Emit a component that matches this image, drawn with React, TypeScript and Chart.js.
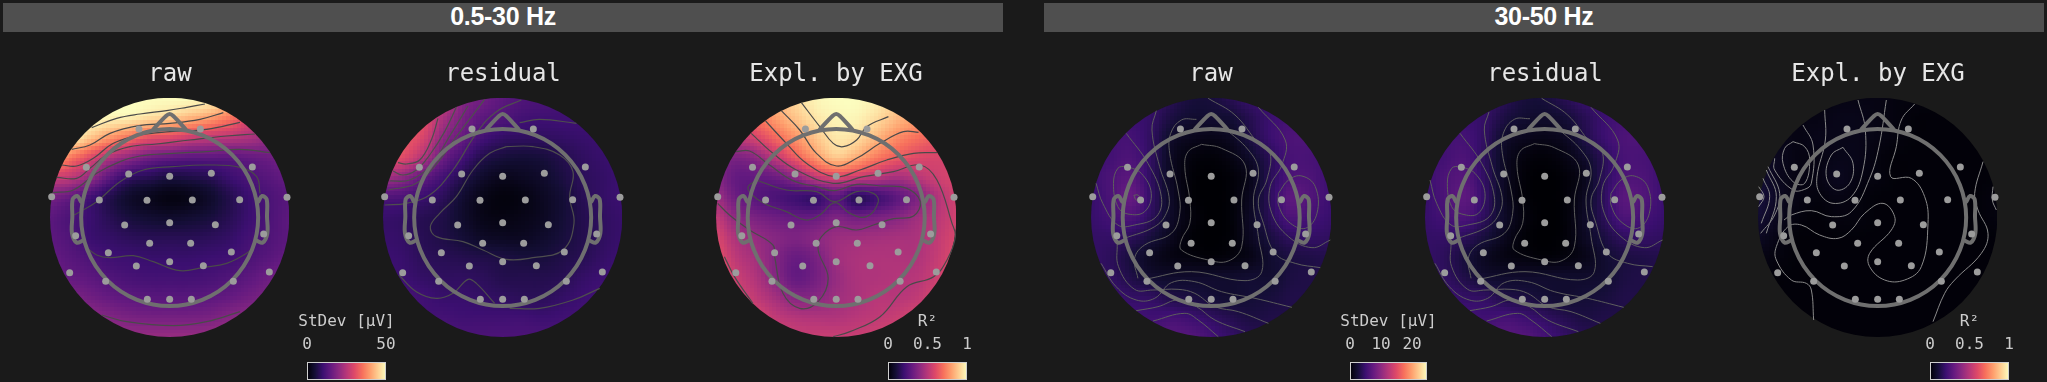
import React, { useEffect, useRef } from "react";
import { Chart, registerables } from "chart.js";

Chart.register(...registerables);

// ---------- labels ----------
const bandLabels = ["0.5-30 Hz", "30-50 Hz"];
const mapTitles = ["raw", "residual", "Expl. by EXG"];
const stdevTitle = "StDev [µV]";
const r2Title = "R²";
const stdevTicksLow = [0, 50];
const stdevTicksHigh = [0, 10, 20];
const r2Ticks = [0, 0.5, 1];

// ---------- colormap ----------
const magmaStops = ["#000004", "#140e36", "#3b0f70", "#641a80", "#8c2981", "#b73779", "#de4968", "#f7705c", "#fe9f6d", "#fecf92", "#fcfdbf"];

// ---------- sensor montage (head units) ----------
const electrodes = [
  [297, 117], [481, 117],
  [139, 232], [266, 252], [389, 259], [514, 250], [637, 231],
  [35, 320], [178, 330], [321, 331], [457, 330], [599, 329], [741, 322],
  [254, 405], [389, 398], [526, 404],
  [107, 437], [671, 432],
  [329, 460], [452, 460],
  [205, 488], [574, 486],
  [289, 528], [389, 515], [490, 527],
  [89, 548], [688, 546],
  [197, 574], [580, 574],
  [322, 628], [389, 628], [454, 628],
];
const headCentre = [[389, 382.5]];
const nose = [[340, 118], [378, 78], [389, 72], [400, 78], [437, 118]];
const earLeft = [[123, 335], [112, 318], [98, 328], [97, 380], [96, 430], [110, 458], [128, 452]];
const earRight = [[655, 335], [666, 318], [680, 328], [681, 380], [682, 430], [668, 458], [650, 452]];

// ---------- field samples, 13x13, percent of colour range ----------
const raw30 = [
  [100, 100, 100, 100, 100, 100, 100, 100, 98, 90, 80, 70, 60],
  [100, 100, 100, 98, 97, 93, 90, 85, 80, 72, 60, 52, 48],
  [98, 98, 88, 78, 70, 62, 60, 55, 52, 50, 47, 42, 40],
  [85, 72, 60, 48, 40, 33, 30, 28, 28, 28, 30, 32, 35],
  [55, 52, 42, 28, 18, 15, 12, 13, 15, 20, 24, 27, 30],
  [35, 30, 22, 14, 8, 5, 3, 4, 8, 14, 20, 24, 27],
  [28, 24, 20, 15, 11, 9, 8, 9, 11, 15, 20, 24, 28],
  [28, 25, 20, 18, 16, 15, 15, 15, 16, 18, 22, 25, 28],
  [30, 27, 24, 21, 20, 19, 19, 19, 20, 21, 24, 27, 30],
  [33, 30, 28, 25, 23, 22, 22, 22, 23, 25, 28, 32, 35],
  [38, 36, 33, 30, 28, 27, 27, 27, 28, 30, 33, 36, 39],
  [42, 42, 40, 37, 35, 34, 34, 34, 35, 38, 40, 42, 43],
  [44, 44, 43, 43, 42, 42, 42, 42, 42, 43, 43, 44, 44],
];
const residual30 = [
  [60, 60, 60, 55, 38, 33, 28, 25, 24, 22, 21, 21, 21],
  [65, 65, 62, 47, 35, 28, 25, 22, 21, 21, 21, 21, 21],
  [65, 64, 58, 40, 30, 22, 18, 17, 17, 18, 19, 20, 20],
  [60, 60, 48, 32, 22, 14, 11, 10, 11, 14, 17, 19, 20],
  [45, 40, 30, 22, 14, 8, 5, 6, 8, 12, 16, 18, 20],
  [25, 24, 20, 16, 9, 4, 2, 3, 6, 10, 15, 18, 20],
  [19, 18, 15, 13, 8, 4, 3, 4, 6, 10, 14, 17, 19],
  [19, 18, 15, 13, 10, 7, 6, 6, 8, 11, 14, 17, 19],
  [20, 19, 16, 15, 14, 13, 12, 11, 11, 13, 15, 18, 20],
  [21, 20, 18, 17, 17, 16, 14, 14, 14, 15, 18, 20, 21],
  [24, 23, 21, 19, 19, 18, 17, 16, 16, 18, 20, 22, 23],
  [24, 24, 22, 22, 21, 21, 21, 21, 20, 21, 22, 23, 24],
  [25, 25, 25, 24, 24, 24, 24, 24, 24, 24, 24, 25, 25],
];
const explained30 = [
  [70, 72, 80, 85, 92, 98, 100, 100, 97, 90, 85, 80, 75],
  [62, 62, 70, 80, 88, 95, 98, 98, 93, 86, 80, 72, 70],
  [55, 52, 58, 68, 78, 88, 95, 93, 85, 76, 70, 65, 62],
  [40, 36, 40, 52, 65, 78, 88, 82, 72, 65, 60, 58, 58],
  [38, 30, 30, 32, 40, 52, 58, 54, 50, 46, 50, 55, 58],
  [44, 32, 27, 24, 21, 19, 28, 16, 21, 28, 36, 48, 56],
  [52, 40, 35, 32, 30, 31, 36, 33, 35, 38, 44, 50, 56],
  [58, 47, 42, 38, 36, 39, 43, 44, 45, 46, 47, 52, 58],
  [62, 51, 45, 37, 31, 35, 44, 47, 48, 48, 48, 53, 60],
  [65, 55, 48, 38, 30, 34, 42, 47, 48, 49, 50, 55, 62],
  [66, 58, 52, 45, 38, 39, 44, 47, 50, 50, 52, 58, 62],
  [66, 60, 58, 52, 49, 48, 48, 50, 52, 54, 58, 60, 62],
  [62, 60, 58, 56, 54, 54, 54, 54, 56, 58, 60, 62, 62],
];
const raw50 = [
  [20, 20, 20, 19, 15, 11, 11, 15, 19, 20, 20, 20, 20],
  [22, 22, 20, 18, 12, 9, 9, 10, 15, 20, 22, 22, 22],
  [22, 22, 22, 17, 8, 5, 4, 6, 13, 20, 24, 24, 22],
  [20, 22, 24, 17, 6, 2, 1, 3, 8, 16, 23, 23, 21],
  [20, 24, 27, 17, 6, 1, 0, 1, 5, 16, 24, 24, 20],
  [19, 24, 30, 18, 7, 1, 0, 1, 6, 17, 28, 25, 20],
  [19, 22, 24, 16, 7, 2, 0, 1, 7, 16, 24, 22, 19],
  [18, 18, 16, 11, 5, 1, 0, 1, 6, 12, 17, 18, 17],
  [18, 16, 11, 6, 3, 2, 1, 2, 4, 9, 12, 13, 14],
  [18, 17, 13, 9, 8, 8, 8, 8, 9, 9, 12, 13, 14],
  [21, 20, 18, 17, 13, 12, 10, 9, 10, 11, 13, 13, 14],
  [23, 22, 22, 21, 22, 20, 17, 14, 12, 13, 13, 14, 14],
  [24, 24, 24, 24, 27, 26, 22, 18, 15, 14, 14, 14, 14],
];
const residual50 = [
  [20, 20, 20, 19, 15, 11, 11, 15, 19, 20, 20, 20, 20],
  [22, 22, 20, 18, 12, 9, 8, 10, 15, 20, 22, 22, 22],
  [22, 22, 22, 17, 8, 5, 4, 6, 13, 20, 24, 24, 22],
  [20, 22, 24, 16, 6, 2, 1, 3, 8, 16, 23, 23, 21],
  [20, 24, 26, 17, 6, 1, 0, 1, 5, 16, 24, 24, 20],
  [19, 24, 28, 18, 6, 1, 0, 1, 6, 17, 27, 25, 20],
  [19, 22, 24, 16, 7, 2, 0, 1, 7, 16, 24, 22, 19],
  [18, 18, 16, 11, 5, 1, 0, 1, 6, 12, 17, 18, 17],
  [18, 16, 11, 6, 3, 2, 1, 2, 4, 9, 12, 13, 14],
  [18, 17, 13, 9, 8, 8, 8, 8, 8, 9, 12, 13, 14],
  [21, 20, 18, 17, 13, 12, 10, 9, 10, 11, 13, 13, 14],
  [23, 22, 22, 21, 22, 20, 17, 14, 12, 13, 13, 14, 14],
  [24, 24, 24, 24, 27, 26, 22, 18, 15, 14, 14, 14, 14],
];
const explained50 = [
  [2, 2, 2, 2, 3, 3, 3, 2, 2, 1, 1, 1, 1],
  [3, 3, 3, 3, 4, 4, 3, 2, 1, 1, 1, 1, 1],
  [5, 4, 3, 4, 4, 4, 3, 2, 1, 1, 1, 1, 1],
  [7, 5, 3, 3, 4, 4, 2, 1, 1, 1, 1, 1, 1],
  [9, 5, 3, 3, 5, 3, 2, 1, 1, 1, 1, 1, 1],
  [11, 6, 3, 2, 3, 2, 1, 1, 1, 1, 1, 1, 2],
  [9, 5, 2, 1, 2, 2, 1, 1, 1, 1, 1, 1, 2],
  [6, 3, 1, 1, 1, 1, 1, 1, 1, 1, 1, 1, 1],
  [3, 2, 1, 1, 1, 1, 1, 1, 1, 1, 1, 1, 1],
  [2, 1, 1, 1, 1, 1, 1, 1, 1, 1, 1, 1, 1],
  [1, 1, 1, 1, 1, 1, 1, 1, 1, 1, 1, 1, 1],
  [1, 1, 1, 1, 1, 1, 1, 1, 1, 1, 1, 1, 1],
  [1, 1, 1, 1, 1, 1, 1, 1, 1, 1, 1, 1, 1],
];

// ---------- iso-lines (head units) ----------
const contoursRaw30 = [
  [[155, 113], [230, 85], [300, 72], [380, 62], [440, 52], [495, 42]],
  [[95, 178], [150, 165], [210, 130], [297, 107], [390, 100], [480, 88], [550, 68]],
  [[65, 225], [110, 228], [160, 205], [220, 160], [300, 135], [390, 125], [500, 118], [600, 97]],
  [[50, 262], [110, 265], [150, 235], [200, 195], [270, 170], [350, 162], [450, 150], [560, 138], [645, 132]],
  [[38, 308], [100, 300], [170, 250], [240, 215], [300, 198], [400, 190], [500, 185], [600, 178], [690, 188]],
  [[103, 375], [170, 335], [240, 275], [310, 240], [400, 230], [500, 225], [600, 232], [650, 260], [660, 310]],
  [[135, 468], [170, 495], [210, 503], [280, 497], [340, 515], [420, 542], [490, 532], [560, 520], [620, 490], [640, 470]],
  [[185, 675], [260, 695], [400, 707], [500, 695], [600, 665]],
];
const contoursResidual30 = [
  [[195, 85], [175, 150], [140, 210], [100, 222], [75, 218]],
  [[250, 52], [215, 125], [170, 195], [130, 240], [90, 255], [60, 243]],
  [[285, 48], [235, 130], [170, 230], [110, 270], [50, 273]],
  [[335, 28], [250, 140], [200, 210], [130, 280], [45, 300]],
  [[445, 30], [370, 65], [310, 130], [240, 240], [170, 315], [100, 340], [35, 345]],
  [[400, 170], [480, 170], [560, 195], [600, 245], [590, 320], [603, 400], [570, 480], [480, 503], [400, 508], [330, 480], [270, 455], [190, 440], [172, 410], [200, 370], [250, 320], [300, 240], [350, 190], [400, 170]],
  [[78, 555], [130, 605], [190, 625], [240, 610], [285, 568], [310, 580], [365, 640]],
  [[410, 655], [500, 655], [600, 630], [680, 595]],
  [[440, 98], [500, 88], [610, 100]],
];
const contoursExplained30 = [
  [[285, 38], [340, 110], [380, 160], [410, 170], [450, 150], [480, 110], [545, 80]],
  [[225, 62], [280, 120], [330, 190], [390, 228], [450, 205], [520, 160], [590, 125], [635, 127]],
  [[178, 93], [240, 160], [300, 220], [385, 260], [460, 240], [540, 210], [620, 190], [690, 188]],
  [[135, 130], [200, 190], [270, 240], [380, 280], [470, 260], [560, 245], [640, 225], [690, 270], [735, 400], [745, 440], [720, 510], [680, 560], [600, 590], [520, 680], [430, 725], [380, 740]],
  [[90, 185], [130, 183], [190, 225], [260, 272], [330, 290], [385, 302], [450, 283], [520, 288], [600, 295], [640, 335], [620, 378], [560, 386], [500, 405], [450, 420], [390, 410], [345, 440], [335, 480], [365, 565], [335, 635], [280, 655], [230, 610], [205, 500], [200, 465], [130, 420], [70, 375], [35, 340]],
  [[150, 270], [240, 300], [330, 305], [385, 335], [450, 305], [500, 310], [515, 335], [480, 380], [430, 370], [385, 338], [340, 375], [300, 390], [240, 365], [165, 335], [125, 295], [150, 270]],
  [[55, 500], [85, 560], [140, 640]],
];
const contoursRaw50 = [
  [[360, 163], [420, 175], [490, 225], [480, 330], [480, 470], [440, 513], [380, 510], [300, 480], [300, 450], [325, 400], [325, 330], [310, 230], [320, 185], [360, 163]],
  [[225, 62], [212, 120], [235, 230], [263, 320], [255, 370], [220, 410], [130, 445]],
  [[345, 88], [300, 90], [268, 130], [265, 190], [290, 300], [295, 370], [270, 430], [190, 465], [160, 505], [170, 565]],
  [[135, 228], [180, 250], [210, 310], [190, 365], [140, 372], [110, 350], [97, 280], [110, 235], [135, 228]],
  [[135, 130], [200, 220], [240, 320], [225, 380], [160, 405], [110, 405], [65, 340], [45, 280]],
  [[190, 568], [330, 545], [490, 572], [540, 545], [530, 440], [515, 330], [530, 240], [500, 180], [430, 115]],
  [[590, 310], [620, 270], [660, 258], [700, 290], [705, 370], [670, 415], [620, 395], [590, 345], [590, 310]],
  [[530, 52], [610, 150], [600, 225], [565, 290], [570, 370], [620, 440], [690, 473], [745, 450]],
  [[380, 25], [460, 75], [530, 160], [565, 190], [555, 270], [530, 330], [545, 400], [580, 490], [640, 520], [715, 533]],
  [[60, 520], [105, 590], [165, 630], [220, 625], [270, 578], [340, 575], [420, 605], [520, 625], [630, 652]],
  [[108, 460], [112, 530], [160, 598], [215, 600], [290, 598], [340, 610], [400, 650], [470, 665], [560, 700]],
  [[165, 662], [230, 650], [290, 630], [345, 650], [400, 690], [490, 725]],
  [[215, 693], [310, 670], [350, 690], [410, 740]],
  [[158, 316], [170, 315], [176, 325], [165, 330], [158, 316]],
];
const contoursResidual50 = [
  [[358, 161], [418, 173], [490, 225], [478, 330], [478, 470], [438, 513], [380, 510], [298, 480], [298, 450], [323, 400], [323, 330], [306, 230], [316, 183], [358, 161]],
  [[222, 66], [208, 120], [232, 230], [261, 320], [253, 370], [218, 410], [130, 445]],
  [[345, 86], [298, 88], [265, 130], [262, 190], [288, 300], [293, 370], [268, 430], [188, 465], [160, 505], [168, 565]],
  [[135, 228], [180, 250], [210, 310], [190, 370], [140, 372], [110, 350], [97, 280], [110, 235], [135, 228]],
  [[135, 130], [200, 220], [238, 320], [223, 380], [158, 405], [108, 405], [65, 340], [45, 270]],
  [[190, 568], [330, 545], [488, 570], [538, 545], [528, 440], [513, 330], [528, 240], [498, 180], [428, 115]],
  [[588, 310], [618, 270], [658, 258], [698, 290], [703, 370], [668, 415], [618, 395], [588, 345], [588, 310]],
  [[528, 52], [608, 150], [598, 225], [563, 290], [568, 370], [618, 440], [688, 473], [743, 450]],
  [[380, 25], [458, 75], [528, 160], [563, 190], [553, 270], [528, 330], [543, 400], [578, 490], [638, 520], [713, 530]],
  [[60, 520], [103, 590], [163, 630], [218, 625], [268, 578], [338, 575], [418, 605], [518, 625], [626, 652]],
  [[108, 460], [110, 530], [158, 598], [213, 600], [288, 598], [338, 610], [398, 650], [468, 665], [556, 700]],
  [[165, 662], [228, 650], [288, 630], [343, 650], [398, 690], [490, 725]],
  [[215, 693], [308, 670], [348, 690], [410, 740]],
];
const contoursExplained50 = [
  [[285, 172], [315, 220], [305, 280], [265, 300], [235, 260], [250, 195], [285, 172]],
  [[135, 155], [170, 170], [185, 210], [170, 280], [135, 275], [105, 220], [110, 175], [135, 155]],
  [[330, 30], [352, 120], [345, 240], [310, 320], [255, 340], [215, 310], [207, 260], [232, 150], [230, 60]],
  [[415, 30], [393, 170], [365, 265], [310, 365], [250, 380], [190, 362], [130, 375], [108, 390]],
  [[165, 105], [195, 165], [190, 280], [170, 298], [135, 300], [80, 240], [80, 205]],
  [[500, 42], [460, 90], [445, 170], [428, 260], [490, 265], [530, 320], [540, 400], [520, 530], [470, 570], [410, 570], [365, 530], [365, 490], [430, 420], [440, 380], [405, 340], [350, 370], [310, 420], [270, 445], [215, 435], [160, 405], [120, 410], [85, 470], [85, 510], [130, 570], [175, 580], [190, 600], [197, 690]],
  [[705, 215], [680, 310], [690, 360], [720, 430], [700, 490], [620, 570], [590, 610], [555, 695]],
  [[735, 290], [733, 330], [745, 360]],
  [[60, 230], [95, 310], [80, 375], [38, 430]],
  [[55, 240], [85, 320], [55, 430]],
  [[45, 265], [65, 320], [40, 400]],
  [[32, 290], [48, 320], [32, 350]],
];

// ---------- helpers ----------
const hexToRgb = (h: string) => [1, 3, 5].map((i) => parseInt(h.slice(i, i + 2), 16));
const magmaRgb = magmaStops.map(hexToRgb);
function magma(t: number) {
  const v = Math.min(1, Math.max(0, t)) * (magmaRgb.length - 1);
  const i = Math.min(magmaRgb.length - 2, Math.floor(v));
  const f = v - i;
  return magmaRgb[i].map((c, k) => c + (magmaRgb[i + 1][k] - c) * f);
}
const catmull = (a: number, b: number, c: number, d: number, t: number) =>
  b + 0.5 * t * (c - a + t * (2 * a - 5 * b + 4 * c - d + t * (3 * (b - c) + d - a)));
function sampleField(g: number[][], u: number, v: number) {
  const n = g.length - 1;
  const ix = Math.min(n - 1, Math.floor(u * n));
  const iy = Math.min(n - 1, Math.floor(v * n));
  const fx = u * n - ix;
  const fy = v * n - iy;
  const at = (r: number, c: number) => g[Math.max(0, Math.min(n, r))][Math.max(0, Math.min(n, c))];
  const rows = [-1, 0, 1, 2].map((d) => catmull(at(iy + d, ix - 1), at(iy + d, ix), at(iy + d, ix + 1), at(iy + d, ix + 2), fx));
  return catmull(rows[0], rows[1], rows[2], rows[3], fy);
}

const FIELD_X0 = 30, FIELD_X1 = 748, FIELD_Y0 = 23, FIELD_Y1 = 741, FIELD_RES = 64;

const fieldPlugin = {
  id: "field",
  beforeDatasetsDraw(chart: any, _a: any, opts: any) {
    const { x, y } = chart.scales;
    const left = x.getPixelForValue(FIELD_X0), right = x.getPixelForValue(FIELD_X1);
    const top = y.getPixelForValue(FIELD_Y0), bottom = y.getPixelForValue(FIELD_Y1);
    const off = document.createElement("canvas");
    off.width = off.height = FIELD_RES;
    const octx = off.getContext("2d")!;
    const img = octx.createImageData(FIELD_RES, FIELD_RES);
    for (let r = 0; r < FIELD_RES; r++) {
      for (let c = 0; c < FIELD_RES; c++) {
        const rgb = magma(sampleField(opts.grid, (c + 0.5) / FIELD_RES, (r + 0.5) / FIELD_RES) / 100);
        const p = (r * FIELD_RES + c) * 4;
        img.data[p] = rgb[0]; img.data[p + 1] = rgb[1]; img.data[p + 2] = rgb[2]; img.data[p + 3] = 255;
      }
    }
    octx.putImageData(img, 0, 0);
    const ctx = chart.ctx;
    ctx.save();
    ctx.beginPath();
    ctx.ellipse((left + right) / 2, (top + bottom) / 2, (right - left) / 2, (bottom - top) / 2, 0, 0, Math.PI * 2);
    ctx.clip();
    ctx.imageSmoothingEnabled = false;
    ctx.drawImage(off, left, top, right - left, bottom - top);
    ctx.restore();
  },
};

const colorbarPlugin = {
  id: "colorbar",
  beforeDatasetsDraw(chart: any) {
    const { left, right, top, bottom } = chart.chartArea;
    const ctx = chart.ctx;
    const g = ctx.createLinearGradient(left, 0, right, 0);
    magmaStops.forEach((c, i) => g.addColorStop(i / (magmaStops.length - 1), c));
    ctx.save();
    ctx.fillStyle = g;
    ctx.fillRect(left, top, right - left, bottom - top);
    ctx.strokeStyle = "#cfcfcf";
    ctx.lineWidth = 1;
    ctx.strokeRect(left + 0.5, top + 0.5, right - left - 1, bottom - top - 1);
    ctx.restore();
  },
};

const toPoints = (a: number[][]) => a.map(([x, y]) => ({ x, y }));
const MONO = "'DejaVu Sans Mono', monospace";

function makeMap(canvas: HTMLCanvasElement, title: string, grid: number[][], contours: number[][][], contourColor: string, contourWidth: number, xMax: number) {
  const outline = (pts: number[][]) => ({
    data: toPoints(pts), showLine: true, tension: 0.35, borderColor: "#6f6f6f", borderWidth: 4,
    borderCapStyle: "round", borderJoinStyle: "round", pointRadius: 0, order: 2, clip: false,
  });
  return new Chart(canvas, {
    type: "scatter",
    data: {
      datasets: [
        ...contours.map((c) => ({
          data: toPoints(c), showLine: true, tension: 0.4, borderColor: contourColor, borderWidth: contourWidth, pointRadius: 0, order: 3,
        })),
        {
          data: toPoints(headCentre), pointRadius: 88.5, pointBorderWidth: 4, pointBorderColor: "#6f6f6f",
          pointBackgroundColor: "rgba(0,0,0,0)", order: 2, clip: false,
        },
        outline(nose), outline(earLeft), outline(earRight),
        {
          data: toPoints(electrodes), pointRadius: 3.5, pointBorderWidth: 0, pointBackgroundColor: "#9c9c9c", order: 1, clip: false,
        },
      ] as any,
    },
    options: {
      animation: false, responsive: false, events: [], devicePixelRatio: 1,
      layout: { padding: 0, autoPadding: false },
      plugins: {
        legend: { display: false }, tooltip: { enabled: false },
        title: {
          display: true, text: title, color: "#e6e6e6",
          font: { family: MONO, size: 24, weight: "normal", lineHeight: 1 },
          padding: { top: 13, bottom: 3 },
        },
        field: { grid },
      } as any,
      scales: {
        x: { type: "linear", display: false, min: 0, max: xMax },
        y: { type: "linear", display: false, min: 0, max: 765, reverse: true },
      },
    },
    plugins: [fieldPlugin],
  } as any);
}

function makeColorbar(canvas: HTMLCanvasElement, title: string, ticks: number[], max: number) {
  const sideAxis = (position: string) => ({
    type: "linear", position, display: true, min: 0, max: 1,
    grid: { display: false, drawTicks: false }, border: { display: false }, ticks: { display: false },
    afterFit: (s: any) => { s.width = 30; },
  });
  return new Chart(canvas, {
    type: "scatter",
    data: { datasets: [{ data: [] }] },
    options: {
      animation: false, responsive: false, events: [], devicePixelRatio: 1,
      layout: { padding: { left: 0, right: 0, top: 0, bottom: 2 }, autoPadding: false },
      plugins: {
        legend: { display: false }, tooltip: { enabled: false },
        title: {
          display: true, text: title, color: "#cccccc",
          font: { family: MONO, size: 16, weight: "normal", lineHeight: 1 },
          padding: { top: 12, bottom: 0 },
        },
      },
      scales: {
        x: {
          type: "linear", position: "top", min: 0, max,
          grid: { display: false, drawTicks: false }, border: { display: false },
          ticks: {
            color: "#cccccc", font: { family: MONO, size: 16, lineHeight: 1.2 }, padding: 8,
            autoSkip: false, maxRotation: 0, minRotation: 0, callback: (v: any) => String(v),
          },
          afterBuildTicks: (s: any) => { s.ticks = ticks.map((value) => ({ value })); },
          afterFit: (s: any) => { s.height = 32; },
        },
        y: sideAxis("left"),
        yRight: sideAxis("right"),
      },
    },
    plugins: [colorbarPlugin],
  } as any);
}

const mapLayout = [
  { left: 40, title: mapTitles[0], grid: raw30, contours: contoursRaw30, color: "#4a4a4a", width: 1.2, xMax: 780 },
  { left: 373, title: mapTitles[1], grid: residual30, contours: contoursResidual30, color: "#4e4e4e", width: 1.2, xMax: 780 },
  { left: 706, title: mapTitles[2], grid: explained30, contours: contoursExplained30, color: "#4a4a4a", width: 1.2, xMax: 776.75 },
  { left: 1081, title: mapTitles[0], grid: raw50, contours: contoursRaw50, color: "#5e5e5e", width: 1, xMax: 776.75 },
  { left: 1415, title: mapTitles[1], grid: residual50, contours: contoursResidual50, color: "#5e5e5e", width: 1, xMax: 780 },
  { left: 1748, title: mapTitles[2], grid: explained50, contours: contoursExplained50, color: "#8a8a8a", width: 1, xMax: 780 },
];
const barLayout = [
  { left: 277, width: 139, title: stdevTitle, ticks: stdevTicksLow, max: 50 },
  { left: 858, width: 139, title: r2Title, ticks: r2Ticks, max: 1 },
  { left: 1320, width: 137, title: stdevTitle, ticks: stdevTicksHigh, max: 24.8 },
  { left: 1900, width: 139, title: r2Title, ticks: r2Ticks, max: 1 },
];
const headerLayout = [
  { left: 3, width: 1000 },
  { left: 1044, width: 1000 },
];

export default function App() {
  const mapRefs = useRef<(HTMLCanvasElement | null)[]>([]);
  const barRefs = useRef<(HTMLCanvasElement | null)[]>([]);

  useEffect(() => {
    document.body.style.margin = "0";
    document.body.style.background = "#1a1a1a";
    const charts = [
      ...mapLayout.map((m, i) => makeMap(mapRefs.current[i]!, m.title, m.grid, m.contours, m.color, m.width, m.xMax)),
      ...barLayout.map((b, i) => makeColorbar(barRefs.current[i]!, b.title, b.ticks, b.max)),
    ];
    return () => charts.forEach((c) => c.destroy());
  }, []);

  return (
    <div style={{ position: "relative", width: 2047, height: 382, overflow: "hidden", background: "#1a1a1a" }}>
      {headerLayout.map((h, i) => (
        <div key={i} style={{
          position: "absolute", left: h.left, top: 3, width: h.width, height: 29, background: "#4f4f4f",
          color: "#fff", font: "bold 25px 'Liberation Sans', Arial, sans-serif", lineHeight: "27px", textAlign: "center", letterSpacing: "-0.3px",
        }}>{bandLabels[i]}</div>
      ))}
      {mapLayout.map((m, i) => (
        <canvas key={i} ref={(el) => { mapRefs.current[i] = el; }} width={260} height={295}
          style={{ position: "absolute", left: m.left, top: 50, width: 260, height: 295 }} />
      ))}
      {barLayout.map((b, i) => (
        <canvas key={i} ref={(el) => { barRefs.current[i] = el; }} width={b.width} height={80}
          style={{ position: "absolute", left: b.left, top: 302, width: b.width, height: 80 }} />
      ))}
    </div>
  );
}
